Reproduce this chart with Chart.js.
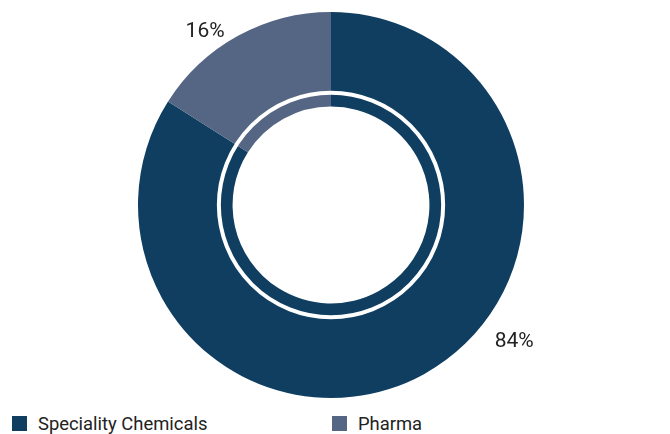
<!DOCTYPE html>
<html>
<head>
<meta charset="utf-8">
<script src="https://cdn.jsdelivr.net/npm/chart.js@4/dist/chart.umd.min.js"></script>
<style>
  html, body { margin: 0; padding: 0; background: #fff; }
  #wrap { position: relative; width: 670px; height: 410px; }
  #legend { position: absolute; top: 413px; left: 0; width: 670px; height: 21px; font-family: Roboto, sans-serif; font-size: 18.4px; color: #222; }
  .item { position: absolute; top: 0; display: flex; align-items: center; }
  .box { width: 15px; height: 15px; margin-right: 11px; }
</style>
</head>
<body>
<div id="wrap"><canvas id="c" width="670" height="410"></canvas></div>
<div id="legend"></div>
<script>
const categories = ["Speciality Chemicals", "Pharma"];
const values = [84, 16];
const valueLabels = ["84%", "16%"];
const colors = ["#0f3e61", "#546683"];

// label placement (angle in degrees clockwise from top, distance as multiple of outer radius)
const labelPlacement = [{ angle: 126.8, dist: 1.185 }, { angle: 324, dist: 1.11 }];

const ringPlugin = {
  id: 'ring',
  afterDatasetsDraw(chart) {
    const meta = chart.getDatasetMeta(0);
    const arc = meta.data[0];
    const ctx = chart.ctx;
    const cx = arc.x, cy = arc.y;
    const rIn = arc.innerRadius, rOut = arc.outerRadius;
    ctx.save();
    ctx.beginPath();
    ctx.arc(cx, cy, rIn + (rOut - rIn) * 0.145, 0, Math.PI * 2);
    ctx.strokeStyle = '#ffffff';
    ctx.lineWidth = 4;
    ctx.stroke();
    // labels
    ctx.fillStyle = '#222';
    ctx.font = '21px Roboto, sans-serif';
    ctx.textAlign = 'center';
    ctx.textBaseline = 'middle';
    meta.data.forEach((a, i) => {
      const p = labelPlacement[i];
      const t = p.angle * Math.PI / 180;
      const r = rOut * p.dist;
      ctx.fillText(valueLabels[i], cx + r * Math.sin(t), cy - r * Math.cos(t));
    });
    ctx.restore();
  }
};

new Chart(document.getElementById('c'), {
  type: 'doughnut',
  data: {
    labels: categories,
    datasets: [{ data: values, backgroundColor: colors, borderWidth: 0 }]
  },
  options: {
    responsive: false,
    animation: false,
    cutout: '51%',
    layout: { padding: { top: 12, bottom: 12, left: 0, right: 8 } },
    plugins: { legend: { display: false }, tooltip: { enabled: false } }
  },
  plugins: [ringPlugin]
});

const legend = document.getElementById('legend');
const legendX = [12, 332];
categories.forEach((name, i) => {
  const d = document.createElement('div');
  d.className = 'item';
  d.style.left = legendX[i] + 'px';
  d.innerHTML = '<span class="box" style="background:' + colors[i] + '"></span><span>' + name + '</span>';
  legend.appendChild(d);
});
</script>
</body>
</html>
